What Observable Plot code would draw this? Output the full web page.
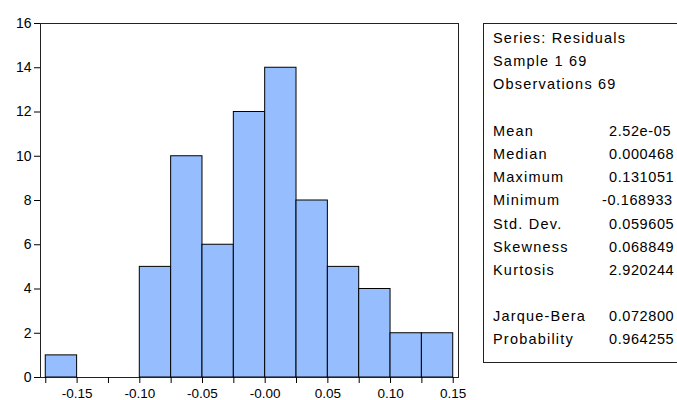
<!DOCTYPE html>
<html><head><meta charset="utf-8">
<script src="https://cdn.jsdelivr.net/npm/d3@7"></script>
<script src="https://cdn.jsdelivr.net/npm/@observablehq/plot@0.6"></script>
<style>
body{margin:0;background:#fff;}
#wrap{position:relative;width:677px;height:400px;overflow:hidden;font-family:"Liberation Sans",Arial,sans-serif;}
#stats{position:absolute;left:483px;top:23px;width:230px;height:335px;border:1px solid #222;box-sizing:content-box;padding-top:3px;font-size:14.5px;letter-spacing:1.2px;color:#000;}
.row{height:23.2px;line-height:23.2px;position:relative;white-space:nowrap;}
.lab{position:absolute;left:9px;}
.val{position:absolute;left:125px;letter-spacing:0.6px;}
</style>
</head><body>
<div id="wrap"><div id="chart"></div><div id="stats"></div></div>
<script>
const binStarts = [-0.175,-0.15,-0.125,-0.1,-0.075,-0.05,-0.025,0,0.025,0.05,0.075,0.1,0.125];
const counts = [1,0,0,5,10,6,12,14,8,5,4,2,2];
const binWidth = 0.025;
const xTickLabels = ["-0.15","-0.10","-0.05","-0.00","0.05","0.10","0.15"];
const yTicks = [0,2,4,6,8,10,12,14,16];
const headerLines = ["Series: Residuals","Sample 1 69","Observations 69"];
const statLabels = ["Mean","Median","Maximum","Minimum","Std. Dev.","Skewness","Kurtosis","","Jarque-Bera","Probability"];
const statValues = ["2.52e-05","0.000468","0.131051","-0.168933","0.059605","0.068849","2.920244","","0.072800","0.964255"];

const bins = binStarts.map((s,i)=>({x1:s, x2:s+binWidth, count:counts[i]}));
const edges = binStarts.concat([binStarts[binStarts.length-1]+binWidth]);
const labelMap = new Map(xTickLabels.map(l=>[parseFloat(l), l]));
const xTickVals = xTickLabels.map(l=>parseFloat(l));

const chart = Plot.plot({
  width: 677, height: 400,
  marginLeft: 40, marginRight: 219, marginTop: 23, marginBottom: 23,
  style: {fontFamily: '"Liberation Sans", Arial, sans-serif', fontSize: "14px", color: "#000", background: "transparent"},
  x: {domain: [-0.1792, 0.1542]},
  y: {domain: [0, 16]},
  marks: [
    Plot.rectY(bins.filter(d=>d.count>0), {x1:"x1", x2:"x2", y:"count", fill:"#96beff", stroke:"#000", strokeWidth:1}),
    Plot.frame({stroke:"#222"}),
    Plot.axisY(yTicks, {tickSize:6, tickPadding:3, label:null, fontSize:14, tickFormat: d=>String(d)}),
    Plot.axisX(edges, {tickSize:6, tickFormat: ()=>"" , label:null}),
    Plot.axisX(xTickVals, {tickSize:0, tickPadding:11, label:null, fontSize:13.5, tickFormat: d=>labelMap.get(d)})
  ]
});
document.getElementById("chart").appendChild(chart);

const stats = document.getElementById("stats");
const rows = headerLines.map(h=>[h,""]).concat([["",""]]).concat(statLabels.map((l,i)=>[l,statValues[i]]));
for (const [l,v] of rows) {
  const r = document.createElement("div"); r.className="row";
  const a = document.createElement("span"); a.className="lab"; a.textContent=l; r.appendChild(a);
  if (v) { const b=document.createElement("span"); b.className="val"; b.textContent=v; if (v.startsWith("-")) b.style.left="118px"; r.appendChild(b); }
  stats.appendChild(r);
}
</script>
</body></html>
